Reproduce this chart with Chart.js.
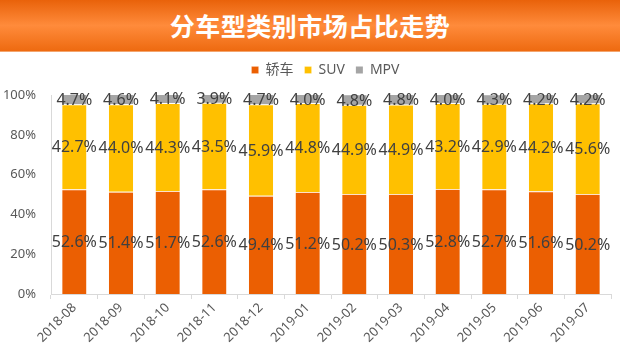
<!DOCTYPE html>
<html>
<head>
<meta charset="utf-8">
<script src="https://cdn.jsdelivr.net/npm/chart.js@4/dist/chart.umd.min.js"></script>
<style>
  html, body { margin:0; padding:0; background:#fff; }
  body { width:620px; height:353px; overflow:hidden; font-family:"Noto Sans CJK SC","Noto Sans",sans-serif; }
  .banner {
    height:51px; line-height:50px; text-align:center; color:#fff;
    font-size:25px; font-weight:bold; letter-spacing:0.5px;
    background:linear-gradient(to bottom, #e9620a 0%, #ff8b3b 50%, #ee6a10 100%);
    border-bottom:1px solid #f3a56e;
  }
  .wrap { position:relative; width:620px; height:301px; }
</style>
</head>
<body>
<div class="banner">分车型类别市场占比走势</div>
<div class="wrap"><canvas id="chart"></canvas></div>
<script>
// data
const months = ['2018-08','2018-09','2018-10','2018-11','2018-12','2019-01','2019-02','2019-03','2019-04','2019-05','2019-06','2019-07'];
const sedan = [52.6, 51.4, 51.7, 52.6, 49.4, 51.2, 50.2, 50.3, 52.8, 52.7, 51.6, 50.2];
const suv   = [42.7, 44.0, 44.3, 43.5, 45.9, 44.8, 44.9, 44.9, 43.2, 42.9, 44.2, 45.6];
const mpv   = [4.7, 4.6, 4.1, 3.9, 4.7, 4.0, 4.8, 4.8, 4.0, 4.3, 4.2, 4.2];
const yTicks = [0, 20, 40, 60, 80, 100];

const font = '"Noto Sans", "Noto Sans CJK SC", sans-serif';

// value labels centred in each segment
const segLabels = {
  id: 'segLabels',
  afterDatasetsDraw(chart){
    const ctx = chart.ctx;
    ctx.save();
    ctx.font = '16px ' + font;
    ctx.fillStyle = '#404040';
    ctx.textAlign = 'center';
    ctx.textBaseline = 'middle';
    chart.data.datasets.forEach((ds, i) => {
      chart.getDatasetMeta(i).data.forEach((bar, j) => {
        const y = (bar.y + bar.base) / 2;
        ctx.fillText(ds.data[j].toFixed(1) + '%', bar.x, y + 1);
      });
    });
    ctx.restore();
  }
};

// legend: extra gap below it, nudged right like the original
const legendFix = {
  id: 'legendFix',
  beforeLayout(chart){
    const lg = chart.legend;
    if(lg && !lg._patched){
      const fit = lg.fit;
      lg.fit = function(){ fit.call(this); this.height += 8; };
      lg._patched = true;
    }
  },
  afterLayout(chart){
    const lg = chart.legend;
    if(lg){ lg.left += 18; lg.right += 18; }
  }
};

new Chart(document.getElementById('chart'), {
  type: 'bar',
  data: {
    labels: months,
    datasets: [
      { label:'轿车', data: sedan, backgroundColor:'#eb5f02', borderColor:'#fde0c8', borderWidth:{top:1}, borderSkipped:false },
      { label:'SUV', data: suv, backgroundColor:'#ffc000', borderColor:'#ffffff', borderWidth:{top:1}, borderSkipped:false },
      { label:'MPV', data: mpv, backgroundColor:'#a5a5a5', borderWidth:0 },
    ]
  },
  options: {
    responsive:true, maintainAspectRatio:false, animation:false,
    layout:{ padding:{ left:4, right:9, top:0, bottom:0 } },
    datasets:{ bar:{ barPercentage:0.52, categoryPercentage:1 } },
    plugins:{
      legend:{
        position:'top',
        labels:{ boxWidth:7, boxHeight:7, color:'#595959', font:{ size:14, family:font }, padding:11 }
      },
      tooltip:{ enabled:false }
    },
    scales:{
      x:{
        stacked:true,
        afterFit(axis){ axis.height = 59; },
        grid:{ display:true, drawOnChartArea:false, tickLength:5, color:'#d9d9d9' },
        border:{ display:true, color:'#d9d9d9' },
        ticks:{ color:'#595959', font:{ size:13, family:font }, maxRotation:45, minRotation:45, padding:1 }
      },
      y:{
        stacked:true, min:0, max:100,
        afterBuildTicks(axis){ axis.ticks = yTicks.map(v => ({ value:v })); },
        afterFit(axis){ axis.width = 47; },
        grid:{ display:false, drawTicks:false },
        border:{ display:true, color:'#d9d9d9' },
        ticks:{ color:'#595959', font:{ size:13, family:font }, padding:15, callback: v => v + '%' }
      }
    }
  },
  plugins:[segLabels, legendFix]
});
</script>
</body>
</html>
